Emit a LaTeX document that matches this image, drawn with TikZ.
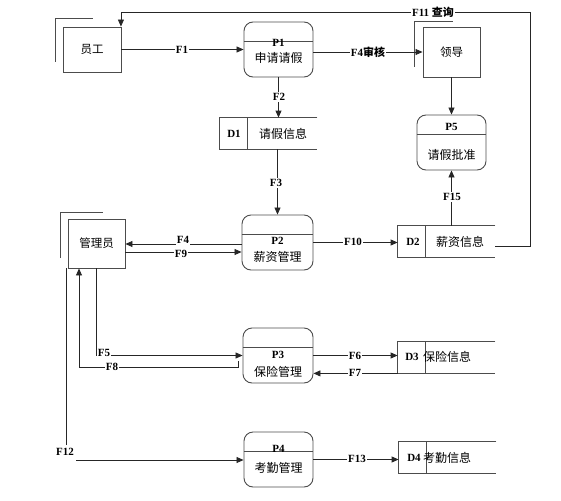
\documentclass[tikz,border=0pt]{standalone}
\usepackage{fontspec}
\setmainfont{Liberation Serif}
\newfontfamily\cjk{Noto Sans CJK SC}
\usetikzlibrary{arrows.meta}
\begin{document}
\begin{tikzpicture}[x=1pt,y=-1pt,
  line width=0.8pt,
  boxline/.style={draw=black!70, line width=0.9pt},
  proc/.style={boxline, rounded corners=9pt, minimum width=69pt, minimum height=55pt, inner sep=0pt},
  ent/.style={boxline, inner sep=0pt, font=\cjk\fontsize{11.5}{13}\selectfont},
  store/.style={minimum width=97pt, minimum height=31pt, inner sep=0pt},
  nm/.style={font=\cjk\fontsize{12}{14}\selectfont, inner sep=0pt},
  pid/.style={font=\bfseries\fontsize{11}{13}\selectfont, inner sep=0pt},
  lab/.style={font=\bfseries\fontsize{11}{13}\selectfont, fill=white, inner sep=1pt},
  conn/.style={draw=black!85, line width=0.8pt},
  flow/.style={conn, -{Triangle[length=7pt,width=6pt]}}]
\useasboundingbox (0,0) rectangle (561,500);

% external entities
\node[ent, minimum width=58pt, minimum height=45pt] (yg) at (92,49.5) {员工};
\node[ent, minimum width=57pt, minimum height=50pt] (ld) at (451.5,52) {领导};
\node[ent, minimum width=57pt, minimum height=49pt] (gl) at (96.5,243.5) {管理员};
\draw[boxline] (55,62) -- (55,18) -- (93,18);
\draw[boxline] (414,67) -- (414,21) -- (453,21);
\draw[boxline] (60,258) -- (60,212) -- (103,212);

% processes
\node[proc] (p1) at (278.5,49.5) {};
\node[proc] (p5) at (451.5,142.5) {};
\node[proc, minimum width=71pt] (p2) at (277.5,242.5) {};
\node[proc, minimum width=70pt] (p3) at (278,355.5) {};
\node[proc] (p4) at (278.5,459.5) {};
\foreach \p in {p1,p2,p3,p4,p5}
  \draw[boxline] ([yshift=-20pt]\p.north west) -- ([yshift=-20pt]\p.north east);
\node[pid] (p1id) at (278.5,43) {P1};
\node[nm]  (p1nm) at (278.5,58) {申请请假};
\node[pid] (p5id) at (451.5,127) {P5};
\node[nm]  (p5nm) at (451.5,155) {请假批准};
\node[pid] (p2id) at (277.5,241) {P2};
\node[nm]  (p2nm) at (277.5,257) {薪资管理};
\node[pid] (p3id) at (278,355) {P3};
\node[nm]  (p3nm) at (278,372) {保险管理};
\node[pid] (p4id) at (278.5,449) {P4};
\node[nm]  (p4nm) at (278.5,468) {考勤管理};

% data stores
\node[store] (d1) at (268.5,133.5) {};
\node[store] (d2) at (446.5,241.5) {};
\node[store] (d3) at (446.5,357.5) {};
\node[store] (d4) at (447.5,457.5) {};
\foreach \d in {d1,d2,d3,d4}{
  \draw[boxline] (\d.north east) -- (\d.north west) -- (\d.south west) -- (\d.south east);
  \draw[boxline] ([xshift=28pt]\d.north west) -- ([xshift=28pt]\d.south west);
}
\node[pid] (d1id) at (234,134) {D1};
\node[nm]  (d1nm) at (283,134) {请假信息};
\node[pid] (d2id) at (413,242) {D2};
\node[nm]  (d2nm) at (460,242) {薪资信息};
\node[pid] (d3id) at (412,357) {D3};
\node[nm]  (d3nm) at (447,357) {保险信息};
\node[pid] (d4id) at (414,458) {D4};
\node[nm]  (d4nm) at (447,458) {考勤信息};

% flows
\draw[flow] (yg.east) -- (p1.west);
\node[lab] (f1) at (182,50) {F1};

\draw[flow] (p1.east |- ld.west) -- (ld.west);
\node[lab] (f4s) at (368,52) {F4{\cjk 审核}};

\draw[flow] (p1.south) -- (p1.south |- d1.north);
\node[lab] (f2) at (279,97) {F2};

\draw[flow] (p2.north |- d1.south) -- (p2.north);
\node[lab] (f3) at (276,183) {F3};

\draw[flow] (ld.south) -- (p5.north);

\draw[flow] (p5.south |- d2.north) -- (p5.south);
\node[lab] (f15) at (452,197) {F15};

\coordinate (c11) at (530,12);
\draw[flow] ([yshift=-4.5pt]d2.east) -| (c11) -| ([xshift=-0.5pt]yg.north east);
\node[lab] (f11) at (433,12) {F11 {\cjk 查询}};

\draw[flow] (p2.east) -- (p2.east -| d2.west);
\node[lab] (f10) at (353,242) {F10};

\draw[flow] ([yshift=-1.5pt]p2.west) -- ([yshift=-1.5pt]p2.west -| gl.east);
\node[lab] (f4) at (183,240) {F4};
\draw[flow] ([yshift=-8.5pt]gl.east) -- ([yshift=-8.5pt]gl.east -| p2.west);
\node[lab] (f9) at (181,254) {F9};

\draw[flow] (gl.south) |- (p3.west);
\node[lab] (f5) at (104,353) {F5};

\coordinate (f8a) at (238,361);
\coordinate (f8b) at (79,367);
\draw[flow] (f8a) |- (f8b) -- (f8b |- gl.south);
\node[lab] (f8) at (112,367) {F8};

\draw[flow] (p3.east) -- (p3.east -| d3.west);
\node[lab] (f6) at (355,356) {F6};
\draw[flow] (d3.south west) -- (d3.south west -| p3.east);
\node[lab] (f7) at (355,373) {F7};

\coordinate (f12a) at (66,268);
\coordinate (f12b) at (66,445);
\coordinate (f12c) at (76,460);
\draw[conn] (f12a) -- (f12b);
\node[pid] (f12) at (65,452) {F12};
\draw[flow] (f12c) -- (f12c -| p4.west);

\draw[flow] (p4.east) -- (p4.east -| d4.west);
\node[lab] (f13) at (357,459) {F13};
\end{tikzpicture}
\end{document}
